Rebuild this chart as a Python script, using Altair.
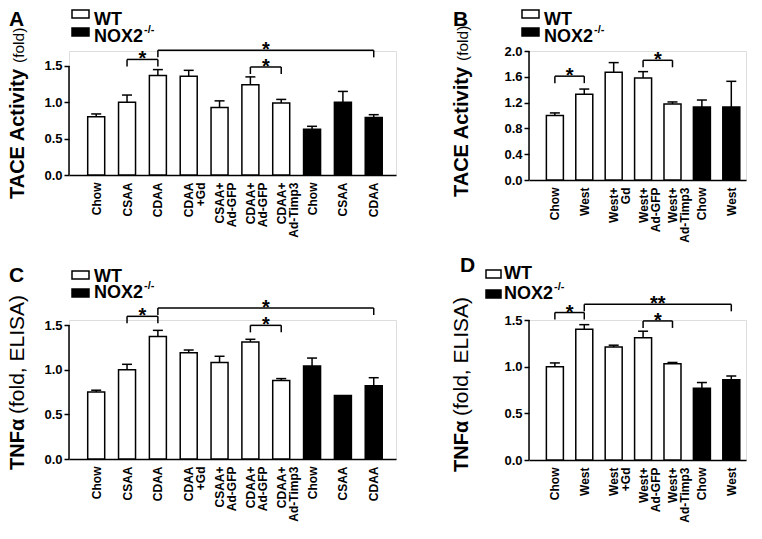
import json
import altair as alt
import pandas as pd

FONT = "Liberation Sans"

# ---------------- data ----------------
# Panel A: TACE activity (fold), CDAA model
a_labels = ["Chow", "CSAA", "CDAA", "CDAA\n+Gd", "CSAA+\nAd-GFP", "CDAA+\nAd-GFP",
            "CDAA+\nAd-Timp3", "Chow", "CSAA", "CDAA"]
a_geno = ["WT"] * 7 + ["NOX2"] * 3
a_mean = [0.80, 1.00, 1.37, 1.36, 0.93, 1.24, 0.99, 0.63, 1.00, 0.79]
a_err = [0.04, 0.10, 0.08, 0.08, 0.09, 0.11, 0.05, 0.04, 0.15, 0.04]
a_br_from = [1, 2, 5]
a_br_to = [2, 9, 6]
a_br_level = [1.59, 1.715, 1.486]
a_br_text = ["*", "*", "*"]

# Panel B: TACE activity (fold), Western diet
b_labels = ["Chow", "West", "West+\nGd", "West+\nAd-GFP", "West+\nAd-Timp3", "Chow", "West"]
b_geno = ["WT"] * 5 + ["NOX2"] * 2
b_mean = [1.00, 1.33, 1.67, 1.58, 1.18, 1.13, 1.13]
b_err = [0.04, 0.08, 0.15, 0.10, 0.03, 0.11, 0.40]
b_br_from = [0, 3]
b_br_to = [1, 4]
b_br_level = [1.61, 1.856]
b_br_text = ["*", "*"]

# Panel C: TNFa (fold, ELISA), CDAA model
c_labels = a_labels
c_geno = a_geno
c_mean = [0.75, 1.00, 1.37, 1.19, 1.08, 1.31, 0.88, 1.04, 0.71, 0.82]
c_err = [0.02, 0.06, 0.07, 0.03, 0.07, 0.03, 0.02, 0.09, 0.0, 0.09]
c_br_from = [1, 2, 5]
c_br_to = [2, 9, 6]
c_br_level = [1.597, 1.69, 1.496]
c_br_text = ["*", "*", "*"]

# Panel D: TNFa (fold, ELISA), Western diet
d_labels = ["Chow", "West", "West\n+Gd", "West+\nAd-GFP", "West+\nAd-Timp3", "Chow", "West"]
d_geno = b_geno
d_mean = [1.00, 1.40, 1.21, 1.31, 1.03, 0.77, 0.86]
d_err = [0.04, 0.05, 0.02, 0.07, 0.015, 0.06, 0.04]
d_br_from = [0, 1, 3]
d_br_to = [1, 6, 4]
d_br_level = [1.58, 1.668, 1.49]
d_br_text = ["*", "**", "*"]

ticks_15 = [0.0, 0.5, 1.0, 1.5]
ticks_20 = [0.0, 0.4, 0.8, 1.2, 1.6, 2.0]


def one_row(**kw):
    return pd.DataFrame({k: [v] for k, v in kw.items()})


def txt(text, x, y, size, weight="bold", angle=0, align="left"):
    return alt.Chart(one_row(t=text)).mark_text(
        font=FONT, fontSize=size, fontWeight=weight, angle=angle, align=align,
        baseline="alphabetic", color="black"
    ).encode(x=alt.value(x), y=alt.value(y), text="t:N")


def box(x1, x2, y1, y2, fill):
    return alt.Chart(one_row(k=0)).mark_rect(fill=fill, stroke="black", strokeWidth=1.5).encode(
        x=alt.value(x1), x2=alt.value(x2), y=alt.value(y1), y2=alt.value(y2))


def panel(labels, geno, mean, err, br_from, br_to, br_level, br_text,
          yticks, ytop, xdom, width, height, ann):
    n = len(labels)
    df = pd.DataFrame({"i": list(range(n)), "geno": geno, "mean": mean, "err": err})
    df["upper"] = df["mean"] + df["err"]
    edf = df[df["err"] > 0]

    xscale = alt.Scale(domain=xdom, nice=False, zero=False)
    yscale = alt.Scale(domain=[0, ytop], nice=False, zero=True)
    label_expr = json.dumps([l.split("\n") for l in labels]) + "[datum.value]"

    xaxis = alt.Axis(values=list(range(n)), labelExpr=label_expr, labelAngle=270,
                     labelAlign="right", labelBaseline="middle", labelFont=FONT,
                     labelFontSize=12, labelFontWeight="bold", labelColor="black",
                     labelPadding=7, labelLineHeight=12, labelOverlap=False, labelFlush=False,
                     ticks=False, grid=False, domain=True, domainColor="black",
                     domainWidth=1.5, title=None)
    yaxis = alt.Axis(values=yticks, format=".1f", domain=False, ticks=True, tickSize=5,
                     tickWidth=1.5, tickColor="black", labelFont=FONT, labelFontSize=13,
                     labelFontWeight="bold", labelColor="black", labelPadding=2,
                     labelOverlap=False, grid=False, title=None)

    def X(f):
        return alt.X(f, scale=xscale, axis=xaxis)

    def Y(f):
        return alt.Y(f, scale=yscale, axis=yaxis)

    bars = alt.Chart(df).mark_bar(size=17, stroke="black", strokeWidth=1.5, orient="vertical").encode(
        x=X("i:Q"),
        y=Y("mean:Q"),
        fill=alt.Fill("geno:N", scale=alt.Scale(domain=["WT", "NOX2"], range=["white", "black"]),
                      legend=None),
    )
    ebar = alt.Chart(edf).mark_rule(strokeWidth=1.5, color="black").encode(
        x=X("i:Q"), y=Y("mean:Q"), y2="upper:Q")
    ecap = alt.Chart(edf).mark_rule(strokeWidth=1.5, color="black", xOffset=-5, x2Offset=5).encode(
        x=X("i:Q"), x2="i:Q", y=Y("upper:Q"))

    bdf = pd.DataFrame({"a": br_from, "b": br_to, "level": br_level, "t": br_text})
    bdf["mid"] = (bdf["a"] + bdf["b"]) / 2
    edf2 = pd.DataFrame({"x": br_from + br_to, "level": br_level + br_level})
    br_h = alt.Chart(bdf).mark_rule(strokeWidth=1.5, color="black").encode(
        x=X("a:Q"), x2="b:Q", y=Y("level:Q"))
    br_v = alt.Chart(edf2).mark_rule(strokeWidth=1.5, color="black", y2Offset=7).encode(
        x=X("x:Q"), y=Y("level:Q"), y2="level:Q")
    stars = alt.Chart(bdf).mark_text(font=FONT, fontSize=20, fontWeight="bold", dy=6,
                                     baseline="alphabetic", color="black").encode(
        x=X("mid:Q"), y=Y("level:Q"), text="t:N")

    yline = alt.Chart(one_row(y0=0.0, y1=yticks[-1])).mark_rule(strokeWidth=1.5, color="black").encode(
        x=alt.value(0), y=Y("y0:Q"), y2="y1:Q")

    lx1, lx2, ltx = ann["leg_x"]
    (wy1, wy2, wty), (ny1, ny2, nty) = ann["leg_y"]
    layers = [
        bars, ebar, ecap, br_h, br_v, stars, yline,
        txt(ann["letter"], ann["letter_x"], ann["letter_y"], 21),
        txt(ann["t_bold"], ann["t_x"], ann["t_y"], 20, angle=270),
        txt(ann["t_rest"], ann["t_x"], ann["t_y2"], ann["t_rest_size"], weight="normal", angle=270),
        box(lx1, lx2, wy1, wy2, "white"),
        box(lx1, lx2, ny1, ny2, "black"),
        txt("WT", ltx, wty, 18),
        txt("NOX2", ltx, nty, 18),
        txt("-/-", ltx + 50, nty - 9, 11),
    ]
    return alt.layer(*layers).properties(width=width, height=height)


A = panel(a_labels, a_geno, a_mean, a_err, a_br_from, a_br_to, a_br_level, a_br_text,
          ticks_15, 1.706, [-0.72, 9.56], 327, 124,
          dict(letter="A", letter_x=-60, letter_y=-25, t_bold="TACE Activity", t_x=-45, t_y=148,
               t_y2=12, t_rest="(fold)", t_rest_size=15.5,
               leg_x=(3, 20, 25), leg_y=((-41, -33, -26), (-23, -15, -9))))
B = panel(b_labels, b_geno, b_mean, b_err, b_br_from, b_br_to, b_br_level, b_br_text,
          ticks_20, 2.0, [-0.71, 6.33], 217, 129,
          dict(letter="B", letter_x=-76, letter_y=-25, t_bold="TACE Activity", t_x=-61, t_y=146,
               t_y2=10, t_rest="(fold)", t_rest_size=15.5,
               leg_x=(-7, 10, 15), leg_y=((-41, -33, -26), (-23, -15, -9))))
C = panel(c_labels, c_geno, c_mean, c_err, c_br_from, c_br_to, c_br_level, c_br_text,
          ticks_15, 1.556, [-0.72, 9.56], 327, 139,
          dict(letter="C", letter_x=-60, letter_y=-38, t_bold="TNFα", t_x=-45, t_y=150,
               t_y2=94, t_rest="(fold, ELISA)", t_rest_size=21,
               leg_x=(3, 20, 25), leg_y=((-49, -41, -38), (-31, -23, -22))))
D = panel(d_labels, d_geno, d_mean, d_err, d_br_from, d_br_to, d_br_level, d_br_text,
          ticks_15, 1.5, [-0.71, 6.33], 217, 140,
          dict(letter="D", letter_x=-69, letter_y=-48, t_bold="TNFα", t_x=-61, t_y=152,
               t_y2=96, t_rest="(fold, ELISA)", t_rest_size=21,
               leg_x=(-43, -28, -25), leg_y=((-50, -42, -41), (-30, -22, -21))))

chart = alt.concat(A, B, C, D, columns=2, spacing={"row": 140, "column": 133}, bounds="flush").properties(
    padding={"left": -2, "top": 0, "right": 0, "bottom": 0}
).configure_view(stroke=None).configure(font=FONT)

chart.save("out.html", embed_options={"renderer": "svg", "actions": False})
